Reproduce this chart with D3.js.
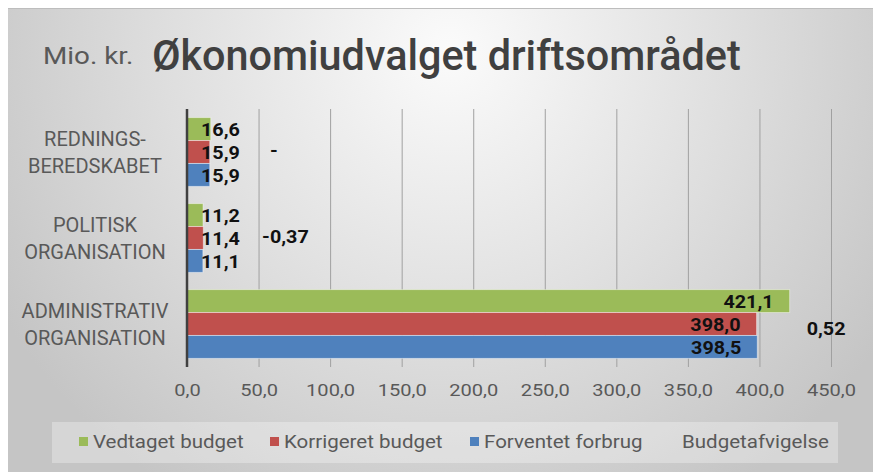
<!DOCTYPE html>
<html>
<head>
<meta charset="utf-8">
<script src="https://cdn.jsdelivr.net/npm/d3@7"></script>
<style>
  html,body{margin:0;padding:0;background:#fff;}
  svg{display:block;}
  text{font-family:Roboto,"Open Sans",sans-serif;}
</style>
</head>
<body>
<svg id="chart" width="873" height="472"></svg>
<script>
// ---- DATA ----
const categories = ["REDNINGS-\nBEREDSKABET", "POLITISK\nORGANISATION", "ADMINISTRATIV\nORGANISATION"];
const seriesNames = ["Vedtaget budget", "Korrigeret budget", "Forventet forbrug"];
const vedtaget = [16.6, 11.2, 421.1];
const korrigeret = [15.9, 11.4, 398.0];
const forventet = [15.9, 11.1, 398.5];
const afvigelseLabels = ["-", "-0,37", "0,52"];
const afvigelseLegend = "Budgetafvigelse";
const xTicks = [0, 50, 100, 150, 200, 250, 300, 350, 400, 450];
const titleText = "Økonomiudvalget driftsområdet";
const unitText = "Mio. kr.";

// ---- STYLE ----
const colors = ["#9bbb59", "#c0504d", "#4f81bd"];
const fmt = v => v.toFixed(1).replace(".", ",");

// horizontally widen/narrow text (reference font has other proportions)
function stretch(sel, k) {
  sel.each(function () {
    const n = this.getComputedTextLength();
    d3.select(this).attr("textLength", n * k).attr("lengthAdjust", "spacingAndGlyphs");
  });
  return sel;
}

const svg = d3.select("#chart");
const W = 873, H = 472;

// background gradient
const defs = svg.append("defs");
const rg = defs.append("radialGradient").attr("id", "bg")
  .attr("gradientUnits", "userSpaceOnUse")
  .attr("cx", 450).attr("cy", 50).attr("r", 520);
rg.append("stop").attr("offset", "0%").attr("stop-color", "#fbfbfb");
rg.append("stop").attr("offset", "55%").attr("stop-color", "#dedede");
rg.append("stop").attr("offset", "100%").attr("stop-color", "#c5c5c5");

svg.append("rect").attr("x", 0).attr("y", 0).attr("width", W).attr("height", H).attr("fill", "#fff");
svg.append("rect").attr("x", 8).attr("y", 8).attr("width", W - 8).attr("height", H - 8).attr("fill", "url(#bg)");
svg.append("line").attr("x1", 8).attr("x2", W).attr("y1", 8.5).attr("y2", 8.5).attr("stroke", "#bdbdbd").attr("stroke-width", 1);

// title
stretch(svg.append("text").attr("x", 43).attr("y", 64).attr("font-size", 23).attr("fill", "#595959").text(unitText), 1.21);
stretch(svg.append("text").attr("x", 152).attr("y", 70).attr("font-size", 42).attr("font-weight", 500).attr("fill", "#404040").text(titleText), 0.985);

// scales
const x = d3.scaleLinear().domain([0, 450]).range([187, 831]);
const y = d3.scaleBand().domain(categories).range([109, 367]).paddingInner(0.2).paddingOuter(0.1);
const ySub = d3.scaleBand().domain(seriesNames).range([0, y.bandwidth()]);

// gridlines
const grid = d3.axisBottom(x).tickValues(xTicks).tickSize(-(367 - 109)).tickFormat("");
const gg = svg.append("g").attr("transform", "translate(0,367)").call(grid);
gg.select(".domain").remove();
gg.selectAll(".tick line").attr("stroke", "#a0a0a0").attr("stroke-width", 1);

// tick labels
const ax = d3.axisBottom(x).tickValues(xTicks).tickSize(0).tickPadding(17).tickFormat(fmt);
const ag = svg.append("g").attr("transform", "translate(0,367)").call(ax);
ag.select(".domain").remove();
stretch(ag.selectAll(".tick text").attr("font-size", 17).attr("fill", "#595959")
  .attr("font-family", 'Roboto,"Open Sans",sans-serif'), 1.18);

// bars
const seriesVals = [vedtaget, korrigeret, forventet];
const rows = [];
categories.forEach((c, i) => seriesNames.forEach((s, j) => rows.push({ c, s, j, v: seriesVals[j][i] })));

svg.append("g").selectAll("rect").data(rows).join("rect")
  .attr("x", x(0))
  .attr("y", d => y(d.c) + ySub(d.s))
  .attr("width", d => x(d.v) - x(0))
  .attr("height", ySub.bandwidth())
  .attr("fill", d => colors[d.j])
  .attr("stroke", "rgba(255,255,255,0.45)").attr("stroke-width", 1);

// value labels
const lab = svg.append("g").selectAll("text").data(rows).join("text")
  .attr("y", d => y(d.c) + ySub(d.s) + ySub.bandwidth() / 2)
  .attr("dy", "0.36em")
  .attr("font-size", 19).attr("font-weight", "bold").attr("fill", "#111")
  .text(d => fmt(d.v));
stretch(lab, 1.04);
lab.each(function (d) {
  const w = +d3.select(this).attr("textLength");
  const xr = x(d.v) - 16;
  const xl = Math.max(xr - w, x(0) + 14);
  d3.select(this).attr("x", xl);
});

// axis line
svg.append("line").attr("x1", x(0)).attr("x2", x(0)).attr("y1", 109).attr("y2", 367)
  .attr("stroke", "#404040").attr("stroke-width", 2.5);

// category labels
categories.forEach(c => {
  const lines = c.split("\n");
  const cy = y(c) + y.bandwidth() / 2;
  lines.forEach((l, k) => {
    const t = svg.append("text").attr("text-anchor", "middle").attr("font-size", 20).attr("fill", "#595959")
      .attr("x", 95).attr("y", cy + (k - (lines.length - 1) / 2) * 27).attr("dy", "0.36em").text(l);
    stretch(t, 1.0);
  });
});

// Budgetafvigelse labels (invisible series; labels placed in value units)
const afvAnchor = [58, 52.5, 433];   // x-position in axis units where label starts
const afvShift = [0, 0, 6];
categories.forEach((c, i) => {
  const t = svg.append("text").attr("x", x(afvAnchor[i])).attr("y", y(c) + y.bandwidth() / 2 + afvShift[i] - 2)
    .attr("dy", "0.36em").attr("font-size", 19).attr("font-weight", "bold").attr("fill", "#111")
    .text(afvigelseLabels[i]);
  stretch(t, 1.04);
});

// legend
svg.append("rect").attr("x", 52).attr("y", 422).attr("width", 786).attr("height", 41).attr("fill", "rgba(255,255,255,0.3)");
const legItems = [
  { name: seriesNames[0], color: colors[0], x: 79 },
  { name: seriesNames[1], color: colors[1], x: 270 },
  { name: seriesNames[2], color: colors[2], x: 470 },
  { name: afvigelseLegend, color: null, x: 668 }
];
legItems.forEach(it => {
  if (it.color) svg.append("rect").attr("x", it.x).attr("y", 437).attr("width", 9).attr("height", 9).attr("fill", it.color);
  const t = svg.append("text").attr("x", it.x + 14).attr("y", 442).attr("dy", "0.36em").attr("font-size", 18).attr("fill", "#595959").text(it.name);
  stretch(t, 1.14);
});
</script>
</body>
</html>
